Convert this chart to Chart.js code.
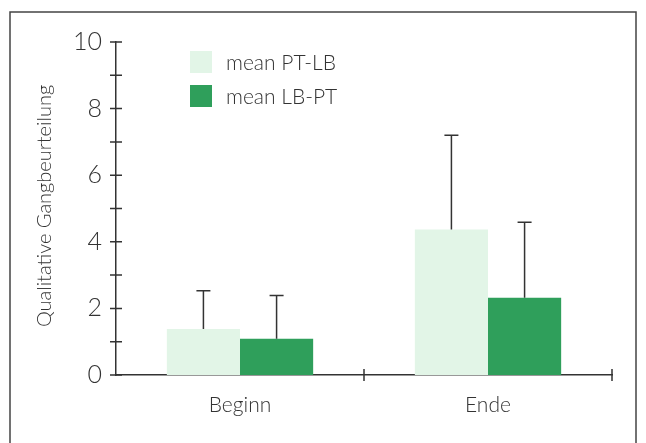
<!DOCTYPE html>
<html>
<head>
<meta charset="utf-8">
<script src="https://cdn.jsdelivr.net/npm/chart.js@4"></script>
<style>
  html, body { margin: 0; padding: 0; background: #fff; }
  #wrap { width: 646px; height: 443px; }
</style>
</head>
<body>
<div id="wrap"><canvas id="chart" width="646" height="443"></canvas></div>
<script>
const categories = ["Beginn", "Ende"];
const seriesNames = ["mean PT-LB", "mean LB-PT"];
const meanPtLb = [1.38, 4.37];
const meanLbPt = [1.09, 2.32];
// upper end of the error whiskers
const errPtLb = [2.53, 7.2];
const errLbPt = [2.39, 4.59];
const yTicks = [0, 2, 4, 6, 8, 10];
const yTitle = "Qualitative Gangbeurteilung";

const ink = "#333333";
const font = "Lato, 'Open Sans', sans-serif";

const errorBars = {
    id: "errorBars",
    afterDatasetsDraw(chart) {
        const ctx = chart.ctx;
        const y = chart.scales.y;
        ctx.save();
        ctx.strokeStyle = ink;
        ctx.lineWidth = 1.5;
        chart.data.datasets.forEach((ds, i) => {
            chart.getDatasetMeta(i).data.forEach((bar, j) => {
                const top = y.getPixelForValue(ds.errTop[j]);
                ctx.beginPath();
                ctx.moveTo(bar.x, bar.y);
                ctx.lineTo(bar.x, top);
                ctx.moveTo(bar.x - 7, top);
                ctx.lineTo(bar.x + 7, top);
                ctx.stroke();
            });
        });
        ctx.restore();
    }
};

const decorations = {
    id: "decorations",
    afterDraw(chart) {
        const ctx = chart.ctx;
        const x = chart.scales.x;
        const y = chart.scales.y;
        const area = chart.chartArea;
        ctx.save();
        // outer frame
        ctx.strokeStyle = "#444";
        ctx.lineWidth = 1.5;
        ctx.beginPath();
        ctx.moveTo(10, 460);
        ctx.lineTo(10, 12);
        ctx.lineTo(636, 12);
        ctx.lineTo(636, 460);
        ctx.stroke();

        // y ticks crossing the axis, every 1 unit
        ctx.strokeStyle = ink;
        ctx.lineWidth = 1.5;
        ctx.beginPath();
        for (let v = y.min; v <= y.max; v++) {
            const py = y.getPixelForValue(v);
            ctx.moveTo(area.left - 6, py);
            ctx.lineTo(area.left + 6, py);
        }
        // x ticks at category boundaries
        const half = (x.getPixelForValue(1) - x.getPixelForValue(0)) / 2;
        for (let i = 1; i <= categories.length; i++) {
            const px = x.getPixelForValue(0) - half + i * 2 * half;
            ctx.moveTo(px, area.bottom - 6);
            ctx.lineTo(px, area.bottom + 6);
        }
        ctx.stroke();

        // y title
        ctx.fillStyle = ink;
        ctx.font = "300 20px " + font;
        ctx.textAlign = "center";
        ctx.textBaseline = "middle";
        ctx.translate(45, 206);
        ctx.rotate(-Math.PI / 2);
        ctx.fillText(yTitle, 0, 0);
        ctx.restore();

        // legend
        ctx.save();
        ctx.font = "300 21px " + font;
        ctx.textBaseline = "middle";
        chart.data.datasets.forEach((ds, i) => {
            const ly = 62 + i * 34;
            ctx.fillStyle = ds.backgroundColor;
            ctx.fillRect(190, ly - 11, 22, 22);
            ctx.fillStyle = ink;
            ctx.fillText(ds.label, 226, ly + 1);
        });
        ctx.restore();
    }
};

new Chart(document.getElementById("chart"), {
    type: "bar",
    data: {
        labels: categories,
        datasets: [
            {
                label: seriesNames[0],
                data: meanPtLb,
                errTop: errPtLb,
                backgroundColor: "#e2f5e7"
            },
            {
                label: seriesNames[1],
                data: meanLbPt,
                errTop: errLbPt,
                backgroundColor: "#2f9f5b"
            }
        ]
    },
    options: {
        responsive: false,
        animation: false,
        devicePixelRatio: 1,
        layout: { padding: { left: 0, right: 34, top: 42, bottom: 0 } },
        plugins: {
            legend: { display: false },
            tooltip: { enabled: false }
        },
        datasets: {
            bar: { categoryPercentage: 0.59, barPercentage: 1.0 }
        },
        scales: {
            x: {
                grid: { display: false, drawTicks: false },
                border: { display: true, color: ink, width: 1.5 },
                ticks: {
                    color: ink,
                    padding: 18,
                    font: { family: font, size: 21, weight: 300 }
                },
                afterFit: s => { s.height = 68; }
            },
            y: {
                min: 0,
                max: 10,
                grid: { display: false, drawTicks: false },
                border: { display: true, color: ink, width: 1.5 },
                afterBuildTicks: s => { s.ticks = yTicks.map(v => ({ value: v })); },
                ticks: {
                    color: ink,
                    padding: 14,
                    font: { family: font, size: 25, weight: 300 }
                },
                afterFit: s => { s.width = 116; }
            }
        }
    },
    plugins: [errorBars, decorations]
});
</script>
</body>
</html>
